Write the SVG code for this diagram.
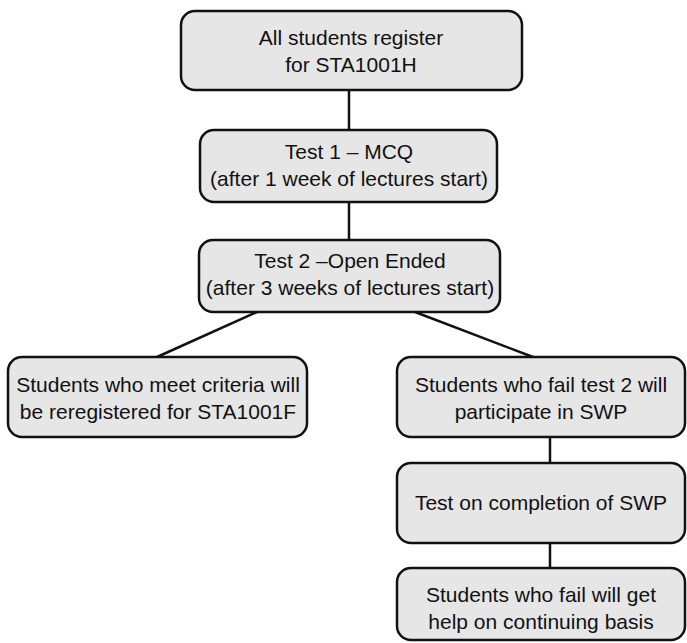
<svg xmlns="http://www.w3.org/2000/svg" width="687" height="643" viewBox="0 0 687 643">
<style>
.box{fill:#e6e6e6;stroke:#111;stroke-width:2.5}
.lbl{font-family:"Liberation Sans",Arial,sans-serif;font-size:21px;fill:#111;text-anchor:middle}
.con{stroke:#111;stroke-width:2.5;fill:none}
</style>
<rect width="687" height="643" fill="#fff"/>
<g id="connectors">
<line class="con" x1="349" y1="90" x2="349" y2="130"/>
<line class="con" x1="349" y1="202" x2="349" y2="240"/>
<line class="con" x1="257" y1="312" x2="157" y2="357"/>
<line class="con" x1="415" y1="312" x2="533" y2="357"/>
<line class="con" x1="550" y1="437" x2="550" y2="463"/>
<line class="con" x1="550" y1="543" x2="550" y2="568"/>
</g>
<g id="n1"><rect class="box" x="181" y="11" width="341" height="79" rx="14"/>
<text class="lbl" x="351" y="45">All students register</text>
<text class="lbl" x="351" y="72">for STA1001H</text></g>
<g id="n2"><rect class="box" x="200" y="130" width="297" height="72" rx="14"/>
<text class="lbl" x="349" y="159">Test 1 – MCQ</text>
<text class="lbl" x="349" y="186">(after 1 week of lectures start)</text></g>
<g id="n3"><rect class="box" x="199" y="240" width="301" height="72" rx="14"/>
<text class="lbl" x="350" y="268">Test 2 –Open Ended</text>
<text class="lbl" x="350" y="295">(after 3 weeks of lectures start)</text></g>
<g id="n4"><rect class="box" x="8" y="357" width="299" height="80" rx="14"/>
<text class="lbl" x="158" y="392">Students who meet criteria will</text>
<text class="lbl" x="158" y="419">be reregistered for STA1001F</text></g>
<g id="n5"><rect class="box" x="397" y="357" width="288" height="80" rx="14"/>
<text class="lbl" x="541" y="392">Students who fail test 2 will</text>
<text class="lbl" x="541" y="419">participate in SWP</text></g>
<g id="n6"><rect class="box" x="397" y="463" width="288" height="80" rx="14"/>
<text class="lbl" x="541" y="510">Test on completion of SWP</text></g>
<g id="n7"><rect class="box" x="397" y="568" width="288" height="72" rx="14"/>
<text class="lbl" x="541" y="602">Students who fail will get</text>
<text class="lbl" x="541" y="629">help on continuing basis</text></g>
</svg>
